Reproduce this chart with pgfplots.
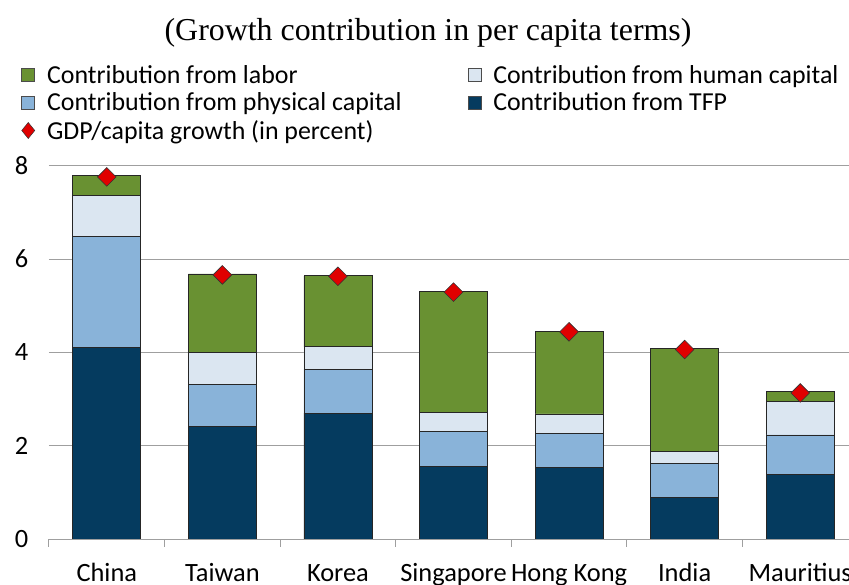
\documentclass[border=0pt]{standalone}
\usepackage{fontspec}
\setmainfont{Carlito}
\newfontfamily\titlefont{Liberation Serif}
\usepackage{pgfplots}
\usepackage{pgfplotstable}
\pgfplotsset{compat=1.18}
\definecolor{labor}{HTML}{699132}
\definecolor{human}{HTML}{DBE6F1}
\definecolor{phys}{HTML}{89B3D9}
\definecolor{tfp}{HTML}{053B5F}
\definecolor{gdp}{HTML}{E00000}

% x  tfp  physical  human  labor  gdp per capita
\pgfplotstableread{
x tfp phys human labor gdp
0 4.11 2.37 0.88 0.43 7.76
1 2.42 0.90 0.68 1.68 5.66
2 2.70 0.94 0.48 1.52 5.63
3 1.56 0.74 0.41 2.59 5.29
4 1.54 0.72 0.42 1.77 4.44
5 0.89 0.73 0.25 2.22 4.06
6 1.38 0.85 0.71 0.22 3.13
}\growth

\pgfplotsset{
  frame/.style={
    at={(49bp,46bp)},anchor=south west,
    scale only axis,width=809bp,height=373.3bp,
    xmin=-0.5,xmax=6.5,ymin=0,ymax=8,
  },
}

\begin{document}
\begin{tikzpicture}
\useasboundingbox (0,0) rectangle (849bp,585bp);
\node[font=\titlefont\fontsize{32}{36}\selectfont] at (428bp,552bp)
  {(Growth contribution in per capita terms)};
\begin{axis}[
  frame,
  ybar stacked,bar width=68bp,
  axis lines*=left,
  y axis line style={draw=none},
  x axis line style={draw=gray!75,line width=1bp},
  ytick={0,2,4,6,8},ytick style={draw=none},
  ymajorgrids,grid style={gray!75,line width=1bp},
  xtick={0,...,6},xtick style={draw=none},
  xticklabels={China,Taiwan,Korea,Singapore,Hong Kong,India,Mauritius},
  minor xtick={-0.5,0.5,...,6.5},
  minor x tick style={draw=gray!75,line width=1bp},
  minor tick length=8bp,tick align=outside,
  tick label style={font=\fontsize{26.5}{29}\selectfont},
  xticklabel style={anchor=north,text height=18bp,text depth=6bp,yshift=-17bp},
  yticklabel style={xshift=-13bp},
  /pgf/number format/assume math mode=true,
  legend columns=2,
  legend cell align=left,
  legend style={at={(-0.038,1.280)},anchor=north west,draw=none,fill=none,
    font=\fontsize{26}{29}\selectfont,row sep=4bp,
    /tikz/every odd column/.append style={column sep=10bp},
    /tikz/every even column/.append style={column sep=64bp}},
  every axis plot/.append style={draw=black!85,line width=0.75bp},
]
\addplot[fill=tfp,forget plot] table[x=x,y=tfp]{\growth};
\addplot[fill=phys,forget plot] table[x=x,y=phys]{\growth};
\addplot[fill=human,forget plot] table[x=x,y=human]{\growth};
\addplot[fill=labor,forget plot] table[x=x,y=labor]{\growth};

\addlegendimage{legend image code/.code={\draw[fill=labor,draw=black!70,line width=0.6bp] (0bp,-6.5bp) rectangle (13bp,6.5bp);}}
\addlegendentry{Contribution from labor}
\addlegendimage{legend image code/.code={\draw[fill=human,draw=black!70,line width=0.6bp] (0bp,-6.5bp) rectangle (13bp,6.5bp);}}
\addlegendentry{Contribution from human capital}
\addlegendimage{legend image code/.code={\draw[fill=phys,draw=black!70,line width=0.6bp] (0bp,-6.5bp) rectangle (13bp,6.5bp);}}
\addlegendentry{Contribution from physical capital}
\addlegendimage{legend image code/.code={\draw[fill=tfp,draw=black!70,line width=0.6bp] (0bp,-6.5bp) rectangle (13bp,6.5bp);}}
\addlegendentry{Contribution from TFP}
\addlegendimage{legend image code/.code={\draw[fill=gdp,draw=black!80,line width=0.5bp] (0bp,0bp) -- (6.5bp,8bp) -- (13bp,0bp) -- (6.5bp,-8bp) -- cycle;}}
\addlegendentry{GDP/capita growth (in percent)}
\end{axis}
\begin{axis}[frame,hide axis]
\addplot[only marks,mark=square*,mark size=6.6bp,
  mark options={rotate=45,fill=gdp,draw=black!80,line width=0.6bp}]
  table[x=x,y=gdp]{\growth};
\end{axis}
\end{tikzpicture}
\end{document}
